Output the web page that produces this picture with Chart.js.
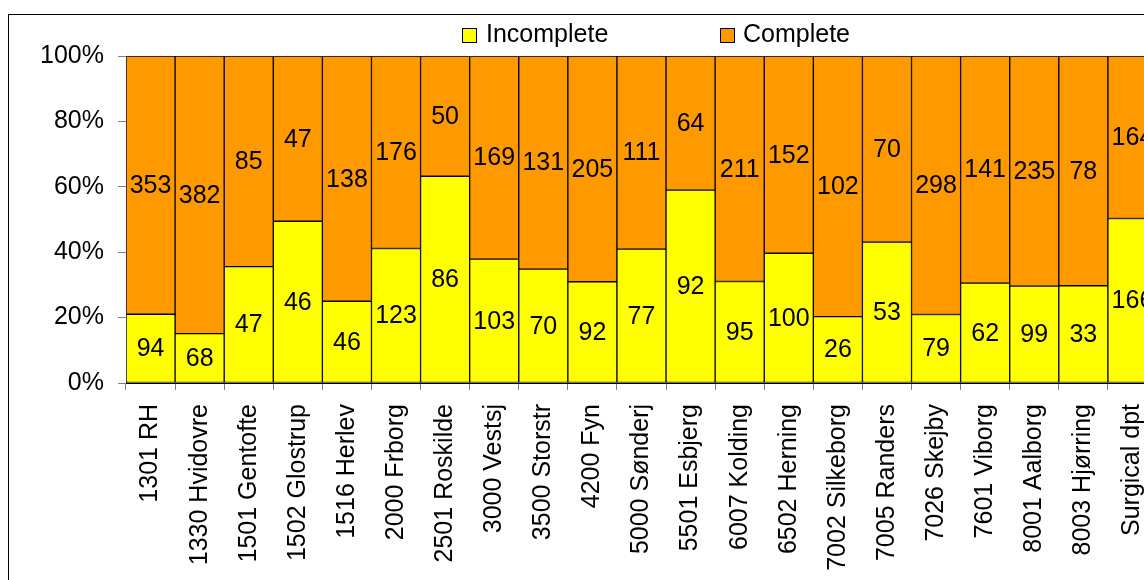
<!DOCTYPE html>
<html>
<head>
<meta charset="utf-8">
<script src="https://cdn.jsdelivr.net/npm/chart.js@4/dist/chart.umd.min.js"></script>
<style>
  html, body { margin: 0; padding: 0; background: #fff; overflow: hidden; width: 1144px; height: 580px; }
  #frame { position: absolute; left: 8px; top: 14px; width: 1300px; height: 700px; border: 1px solid #000; box-sizing: border-box; }
  #chart { position: absolute; left: 0; top: 0; }
  .legend-box { position: absolute; width: 15px; height: 15px; border: 1px solid #000; box-sizing: border-box; }
  .legend-text { position: absolute; font: 25px "Liberation Sans", Arial, sans-serif; line-height: 25px; color: #000; white-space: nowrap; }
</style>
</head>
<body>
<div id="frame"></div>
<canvas id="chart" width="1160" height="580"></canvas>
<div class="legend-box" style="left:462px;top:28px;background:#FFFF00"></div>
<div class="legend-text" style="left:486px;top:21px">Incomplete</div>
<div class="legend-box" style="left:720px;top:28px;background:#FF9900"></div>
<div class="legend-text" style="left:743px;top:21px">Complete</div>
<script>
const categories = [
  "1301 RH", "1330 Hvidovre", "1501 Gentofte", "1502 Glostrup", "1516 Herlev",
  "2000 Frborg", "2501 Roskilde", "3000 Vestsj", "3500 Storstr", "4200 Fyn",
  "5000 Sønderj", "5501 Esbjerg", "6007 Kolding", "6502 Herning", "7002 Silkeborg",
  "7005 Randers", "7026 Skejby", "7601 Viborg", "8001 Aalborg", "8003 Hjørring",
  "Surgical dpt"
];
const incomplete = [94, 68, 47, 46, 46, 123, 86, 103, 70, 92, 77, 92, 95, 100, 26, 53, 79, 62, 99, 33, 166];
const complete = [353, 382, 85, 47, 138, 176, 50, 169, 131, 205, 111, 64, 211, 152, 102, 70, 298, 141, 235, 78, 164];
const seriesNames = ["Incomplete", "Complete"];
const seriesColors = ["#FFFF00", "#FF9900"];

// share of each bar, the chart is a 100% stack
const pct = (arr) => arr.map((v, i) => v / (incomplete[i] + complete[i]) * 100);

Chart.defaults.font.family = "'Liberation Sans', Arial, sans-serif";
Chart.defaults.font.size = 25;
Chart.defaults.color = "#000";

const countLabels = {
  id: "countLabels",
  afterDatasetsDraw(chart) {
    const ctx = chart.ctx;
    ctx.save();
    ctx.font = "25px 'Liberation Sans', Arial, sans-serif";
    ctx.fillStyle = "#000";
    ctx.textAlign = "center";
    ctx.textBaseline = "middle";
    chart.data.datasets.forEach((ds, di) => {
      chart.getDatasetMeta(di).data.forEach((bar, i) => {
        ctx.fillText(String(ds.counts[i]), bar.x, (bar.y + bar.base) / 2 + 1);
      });
    });
    ctx.restore();
  }
};

new Chart(document.getElementById("chart").getContext("2d"), {
  type: "bar",
  data: {
    labels: categories,
    datasets: [
      { label: seriesNames[0], data: pct(incomplete), counts: incomplete, backgroundColor: seriesColors[0] },
      { label: seriesNames[1], data: pct(complete), counts: complete, backgroundColor: seriesColors[1] }
    ]
  },
  options: {
    responsive: false,
    animation: false,
    layout: { padding: { top: 56, left: 0, right: 3, bottom: 0 } },
    datasets: {
      bar: {
        borderColor: "#000",
        borderWidth: 1,
        borderSkipped: false,
        barPercentage: 1,
        categoryPercentage: 1
      }
    },
    plugins: {
      legend: { display: false },
      tooltip: { enabled: false }
    },
    scales: {
      x: {
        stacked: true,
        afterFit(scale) {
          scale.height = 197;
          scale.paddingLeft = 0;
          scale.paddingRight = 0;
        },
        grid: { offset: true, drawOnChartArea: false, drawTicks: true, tickLength: 7, color: "#808080" },
        border: { display: true, color: "#000" },
        ticks: { autoSkip: false, minRotation: 90, maxRotation: 90, padding: 14 }
      },
      y: {
        stacked: true,
        min: 0,
        max: 100,
        afterFit(scale) { scale.width = 126; },
        grid: { drawOnChartArea: false, drawTicks: true, tickLength: 8, color: "#808080" },
        border: { display: true, color: "#000" },
        ticks: { stepSize: 20, padding: 14, callback: v => v + "%" }
      }
    }
  },
  plugins: [countLabels]
});
</script>
</body>
</html>
